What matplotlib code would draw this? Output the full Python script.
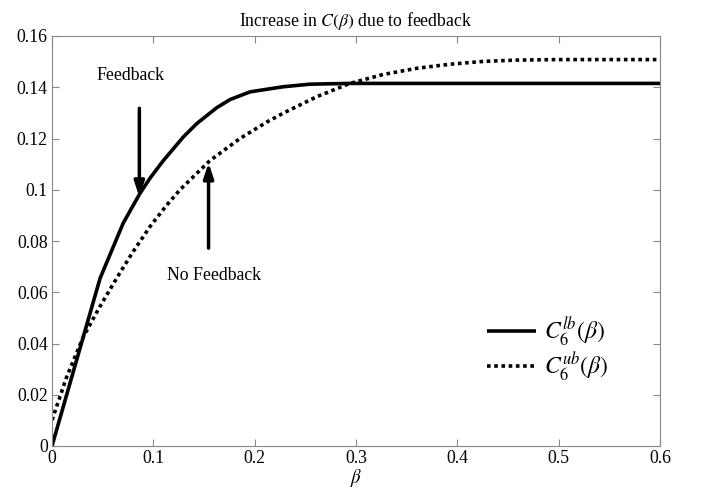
import matplotlib
matplotlib.use("Agg")
import matplotlib.pyplot as plt

# data
beta_lb = [0.0, 0.0474, 0.0703, 0.0867, 0.0967, 0.1099, 0.1296, 0.1428, 0.1625, 0.1757,
           0.1954, 0.2283, 0.2546, 0.294, 0.35, 0.4, 0.45, 0.5, 0.55, 0.6]
c_lb = [0.0, 0.0654, 0.0870, 0.0985, 0.1045, 0.1114, 0.1206, 0.1258, 0.1320, 0.1352,
        0.1382, 0.1402, 0.1412, 0.1415, 0.1415, 0.1415, 0.1415, 0.1415, 0.1415, 0.1415]

beta_ub = [0.0, 0.0145, 0.031, 0.0474, 0.0638, 0.0803, 0.0967, 0.1132, 0.1263, 0.1559,
           0.1855, 0.2119, 0.2283, 0.2612, 0.294, 0.327, 0.36, 0.393, 0.426, 0.459,
           0.498, 0.55, 0.6]
c_ub = [0.0101, 0.0270, 0.0427, 0.0545, 0.0655, 0.0760, 0.0856, 0.0940, 0.1000, 0.1114,
        0.1200, 0.1264, 0.1299, 0.1363, 0.1415, 0.1450, 0.1474, 0.1490, 0.1501, 0.1506,
        0.1508, 0.1508, 0.1508]

xticks = [0, 0.1, 0.2, 0.3, 0.4, 0.5, 0.6]
xticklabels = ["0", "0.1", "0.2", "0.3", "0.4", "0.5", "0.6"]
yticks = [0, 0.02, 0.04, 0.06, 0.08, 0.1, 0.12, 0.14, 0.16]
yticklabels = ["0", "0.02", "0.04", "0.06", "0.08", "0.1", "0.12", "0.14", "0.16"]

plt.rcParams['font.family'] = ['Liberation Serif', 'DejaVu Serif']
plt.rcParams['mathtext.fontset'] = 'stix'

fig = plt.figure(figsize=(7.06, 4.91), dpi=100)
ax = fig.add_axes([52/706, 45/491, 608/706, 410/491])

ax.plot(beta_lb, c_lb, color='black', lw=2.6, solid_capstyle='butt',
        solid_joinstyle='round', label=r'$C_6^{lb}(\beta)$')
ax.plot(beta_ub, c_ub, color='black', lw=2.6, linestyle=(0, (1, 1)),
        dash_capstyle='butt', label=r'$C_6^{ub}(\beta)$')

ax.set_xlim(0, 0.6)
ax.set_ylim(0, 0.16)
ax.set_xticks(xticks)
ax.set_xticklabels(xticklabels)
ax.set_yticks(yticks)
ax.set_yticklabels(yticklabels)
ax.tick_params(direction='in', length=5, color='#888888', labelsize=12.8,
               top=True, right=True, pad=3)
for s in ax.spines.values():
    s.set_color('#888888')
    s.set_linewidth(0.8)

ax.set_xlabel(r'$\beta$', fontsize=13.5, labelpad=0)
ax.set_title(r'Increase in $C(\beta)$ due to feedback', fontsize=12.8, pad=7)

ax.annotate('', xy=(0.0862, 0.0972), xytext=(0.0862, 0.1318),
            arrowprops=dict(arrowstyle='-|>,head_length=0.9,head_width=0.3',
                            color='black', lw=2.5, shrinkA=0, shrinkB=0))
ax.annotate('', xy=(0.1545, 0.1105), xytext=(0.1545, 0.0772),
            arrowprops=dict(arrowstyle='-|>,head_length=0.9,head_width=0.3',
                            color='black', lw=2.5, shrinkA=0, shrinkB=0))
ax.text(0.077, 0.1445, 'Feedback', fontsize=12.8, ha='center', va='center')
ax.text(0.1595, 0.0665, 'No Feedback', fontsize=12.8, ha='center', va='center')

ax.legend(loc='center right', bbox_to_anchor=(0.951, 0.236), frameon=False,
          fontsize=17, handlelength=2.1, handletextpad=0.34, labelspacing=0.12)

fig.savefig('out.png', dpi=100)
